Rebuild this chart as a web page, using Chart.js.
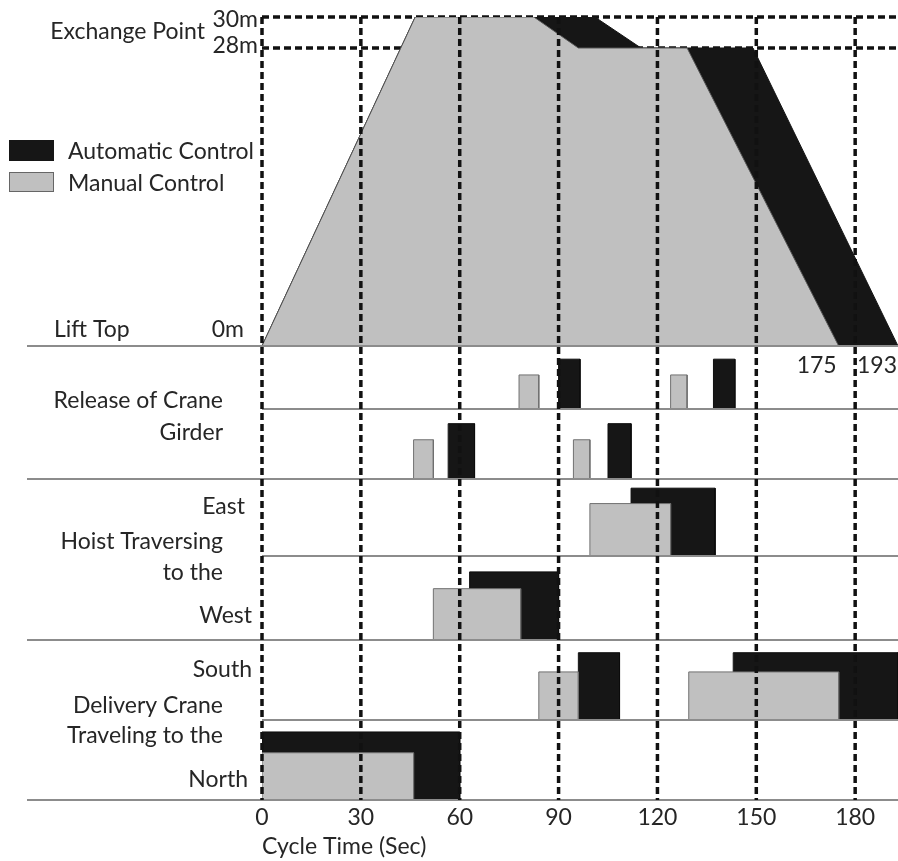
<!DOCTYPE html>
<html>
<head>
<meta charset="utf-8">
<script src="https://cdn.jsdelivr.net/npm/chart.js@4.4.1/dist/chart.umd.min.js"></script>
<style>
html, body { margin: 0; padding: 0; background: #fff; }
canvas { display: block; }
</style>
</head>
<body>
<canvas id="c" width="898" height="861"></canvas>
<script>
// cycle time axis (sec)
var xTicks = [0, 30, 60, 90, 120, 150, 180];
var xMax = 193;

// lift top height (m) over cycle time
var autoLiftT = [0, 46.5, 101, 115, 149, 193];
var autoLiftH = [0, 30, 30, 28, 28, 0];
var manualLiftT = [0, 46.5, 82.5, 96, 129, 175];
var manualLiftH = [0, 30, 30, 28, 28, 0];

// rows: 0/1 release of crane girder, 2 hoist east, 3 hoist west, 4 crane south, 5 crane north
var autoRow = [0, 0, 1, 1, 2, 3, 4, 4, 5];
var autoStart = [90, 137, 56.5, 105, 112, 63, 96, 143, 0];
var autoEnd = [96.5, 143.5, 64.5, 112, 137.5, 90, 108.5, 193, 60];
var manualRow = [0, 0, 1, 1, 2, 3, 4, 4, 5];
var manualStart = [78, 124, 46, 94.5, 99.5, 52, 84, 129.5, 0];
var manualEnd = [84, 129, 52, 99.5, 124, 78.5, 96, 175, 46];

var seriesNames = ['Automatic Control', 'Manual Control'];

// layout
var FONT = 'Lato, "Open Sans", sans-serif';
var TXT = '#262626';
var BLACK = '#161616';
var GRAY = '#c0c0c0';
var ROW_SPAN = [5.75, 6.38, 7.02, 7.66, 7.3, 7.3];
var AUTO_H = [0.79, 0.79, 0.88, 0.81, 0.84, 0.85];
var MAN_H = [0.54, 0.56, 0.68, 0.61, 0.6, 0.59];

var rowBottom = [];
var acc = 0;
for (var i = 0; i < ROW_SPAN.length; i++) {
  acc += ROW_SPAN[i];
  rowBottom.push(-acc);
}
var yMin = -acc;

// the figure stretches the last 2 m up to the exchange point
var K_LOW = 0.9705, K_HIGH = 1.4134;
function warp(v) {
  if (v <= 0) return v;
  if (v <= 28) return v * K_LOW;
  return 28 * K_LOW + (v - 28) * K_HIGH;
}
function unwarp(w) {
  if (w <= 0) return w;
  if (w <= 28 * K_LOW) return w / K_LOW;
  return 28 + (w - 28 * K_LOW) / K_HIGH;
}
class LiftScale extends Chart.LinearScale {
  getPixelForValue(v) { return super.getPixelForValue(warp(v)); }
  getValueForPixel(p) { return unwarp(super.getValueForPixel(p)); }
}
LiftScale.id = 'lift';
LiftScale.defaults = Chart.LinearScale.defaults;
Chart.register(LiftScale);

function rect(x0, x1, y0, y1) {
  return [{x: x0, y: y0}, {x: x0, y: y1}, {x: x1, y: y1}, {x: x1, y: y0}];
}
function pts(t, h) {
  return t.map(function (v, i) { return {x: v, y: h[i]}; });
}

var ds = [];
// manual first -> drawn on top
ds.push({data: pts(manualLiftT, manualLiftH), fill: 'origin', backgroundColor: GRAY, borderColor: '#555', borderWidth: 1});
manualRow.forEach(function (r, i) {
  var b = rowBottom[r];
  ds.push({data: rect(manualStart[i], manualEnd[i], b, b + MAN_H[r] * ROW_SPAN[r]),
    fill: {value: b}, backgroundColor: GRAY, borderColor: '#707070', borderWidth: 1});
});
ds.push({data: pts(autoLiftT, autoLiftH), fill: 'origin', backgroundColor: BLACK, borderColor: BLACK, borderWidth: 1});
autoRow.forEach(function (r, i) {
  var b = rowBottom[r];
  ds.push({data: rect(autoStart[i], autoEnd[i], b, b + AUTO_H[r] * ROW_SPAN[r]),
    fill: {value: b}, backgroundColor: BLACK, borderColor: '#0c0c0c', borderWidth: 1});
});

function txt(ctx, s, x, y, align) {
  ctx.textAlign = align || 'right';
  ctx.fillText(s, x, y);
}

var decor = {
  id: 'decor',
  beforeDatasetsDraw: function (chart) {
    var ctx = chart.ctx, a = chart.chartArea, ys = chart.scales.y;
    ctx.save();
    ctx.strokeStyle = '#111';
    ctx.lineWidth = 3.5;
    ctx.setLineDash([7, 4]);
    [30, 28].forEach(function (v) {
      var y = ys.getPixelForValue(v);
      ctx.beginPath();
      ctx.moveTo(a.left, y);
      ctx.lineTo(a.right, y);
      ctx.stroke();
    });
    ctx.restore();
  },
  afterDatasetsDraw: function (chart) {
    var ctx = chart.ctx, a = chart.chartArea, xs = chart.scales.x, ys = chart.scales.y;
    ctx.save();
    ctx.strokeStyle = '#8c8c8c';
    ctx.lineWidth = 2;
    var lines = [[0, 27], [rowBottom[0], a.left], [rowBottom[1], 27], [rowBottom[2], a.left],
      [rowBottom[3], 27], [rowBottom[4], a.left], [rowBottom[5], 27]];
    lines.forEach(function (l) {
      var y = ys.getPixelForValue(l[0]);
      ctx.beginPath();
      ctx.moveTo(l[1], y);
      ctx.lineTo(a.right, y);
      ctx.stroke();
    });
    ctx.strokeStyle = '#111';
    ctx.lineWidth = 3.5;
    ctx.setLineDash([7, 4]);
    xTicks.forEach(function (v) {
      var x = xs.getPixelForValue(v);
      ctx.beginPath();
      ctx.moveTo(x, a.top);
      ctx.lineTo(x, a.bottom);
      ctx.stroke();
    });
    ctx.restore();
  },
  afterDraw: function (chart) {
    var ctx = chart.ctx, xs = chart.scales.x;
    ctx.save();
    ctx.font = '23px ' + FONT;
    ctx.fillStyle = TXT;
    ctx.textBaseline = 'alphabetic';
    txt(ctx, 'Exchange Point', 205, 39);
    txt(ctx, '30m', 258, 27);
    txt(ctx, '28m', 258, 53);
    txt(ctx, seriesNames[0], 68, 159, 'left');
    txt(ctx, seriesNames[1], 68, 191, 'left');
    txt(ctx, 'Lift Top', 54, 337, 'left');
    txt(ctx, '0m', 244, 337);
    txt(ctx, 'Release of Crane', 223, 408);
    txt(ctx, 'Girder', 223, 440);
    txt(ctx, 'East', 245, 514);
    txt(ctx, 'Hoist Traversing', 223, 549);
    txt(ctx, 'to the', 223, 580);
    txt(ctx, 'West', 252, 623);
    txt(ctx, 'South', 252, 677);
    txt(ctx, 'Delivery Crane', 223, 713);
    txt(ctx, 'Traveling to the', 223, 743);
    txt(ctx, 'North', 248, 787);
    txt(ctx, '175', xs.getPixelForValue(175) - 2, 373);
    txt(ctx, '193', xs.getPixelForValue(193) - 1, 373);
    // legend boxes
    ctx.fillStyle = BLACK;
    ctx.fillRect(9, 140, 45, 21);
    ctx.fillStyle = GRAY;
    ctx.fillRect(9, 172, 45, 20);
    ctx.strokeStyle = '#666';
    ctx.lineWidth = 1;
    ctx.strokeRect(9.5, 172.5, 44, 19);
    ctx.restore();
  }
};

new Chart(document.getElementById('c').getContext('2d'), {
  type: 'line',
  data: {datasets: ds},
  options: {
    responsive: false,
    animation: false,
    layout: {padding: {left: 262, top: 17, right: 0, bottom: 0}},
    elements: {point: {radius: 0, hoverRadius: 0}, line: {tension: 0}},
    plugins: {legend: {display: false}, tooltip: {enabled: false}},
    scales: {
      x: {
        type: 'linear', min: 0, max: xMax,
        grid: {display: false, drawTicks: false}, border: {display: false},
        afterBuildTicks: function (s) { s.ticks = xTicks.map(function (v) { return {value: v}; }); },
        afterFit: function (s) { s.height = 61; },
        ticks: {autoSkip: false, maxRotation: 0, padding: 4, color: TXT, font: {family: FONT, size: 23}},
        title: {display: true, text: 'Cycle Time (Sec)', align: 'start', color: TXT,
          font: {family: FONT, size: 23}, padding: {top: 0, bottom: 1}}
      },
      y: {type: 'lift', min: yMin, max: 30, display: false}
    }
  },
  plugins: [decor]
});
</script>
</body>
</html>
